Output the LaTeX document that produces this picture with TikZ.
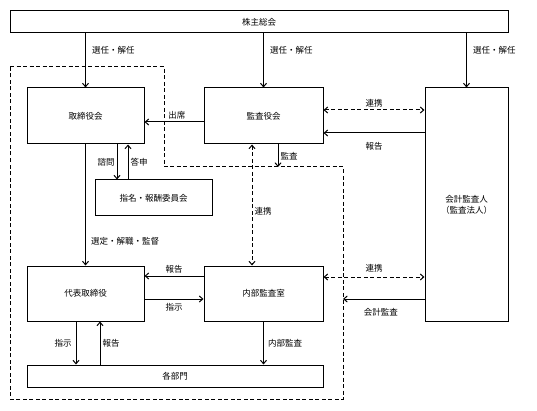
\documentclass[tikz,border=0pt]{standalone}
\usepackage{fontspec}
\newfontfamily\jpfont{Noto Sans CJK JP}
\usepackage{tikz}
\usetikzlibrary{positioning}
\usetikzlibrary{calc,arrows.meta}

\tikzset{
	box/.style    = {draw, line width=1pt, inner sep=0pt, font=\jpfont\fontsize{8.5}{11}\selectfont, align=center},
	lbl/.style    = {inner sep=2pt, font=\jpfont\fontsize{8.5}{11}\selectfont},
	conn/.style   = {line width=1pt, -{Straight Barb[length=3.5pt,width=6pt]}},
	link/.style   = {line width=1pt, dash pattern=on 4pt off 2.5pt, {Straight Barb[length=3.5pt,width=6pt]}-{Straight Barb[length=3.5pt,width=6pt]}},
	frame/.style  = {line width=1pt, dash pattern=on 4pt off 2.5pt},
}

\begin{document}
\begin{tikzpicture}[x=1pt, y=-1pt]
	
	% ------------------------------------------------
	% Ensure the dimensions of graphic are appropriate
	\useasboundingbox (0,0) rectangle (537,411);
	
	% ------------------------------------------------
	% Boxes
	\node[box, minimum width=498pt, minimum height=22pt] (Soukai) at (259,22) {株主総会};
	
	\node[box, minimum width=117pt, minimum height=56pt] (Torishimari) at (85.5,116) {取締役会};
	\node[box, minimum width=119pt, minimum height=56pt] (Kansayaku)   at (263.5,116) {監査役会};
	\node[box, minimum width=83pt, minimum height=233pt] (Kaikei)      at (466.5,204.5) {会計監査人\\（監査法人）};
	
	\node[box, minimum width=117pt, minimum height=36pt] (Shimei) at (153.5,198) {指名・報酬委員会};
	
	\node[box, minimum width=117pt, minimum height=55pt] (Daihyo) at (85.5,293.5) {代表取締役};
	\node[box, minimum width=119pt, minimum height=55pt] (Naibu)  at (263.5,293.5) {内部監査室};
	
	\node[box, minimum width=296pt, minimum height=22pt] (Kakubu) at (175,376) {各部門};
	
	% ----------------
	% Dashed frame
	\draw[frame] (10,67) -- (164,67) -- (164,167) -- (343,167) -- (343,399) -- (10,399) -- cycle;
	
	\coordinate (KansaEnd)  at (278,167);
	\coordinate (KaikeiEnd) at (343,299);
	
	%%%%%%%%%%%%%%%%%%%%%%%%%%%%%%%%%%%%%%%%%
	% Connectors
	\draw[conn] (Soukai.south -| Torishimari) -- node[lbl, pos=0.31, anchor=west, xshift=4pt] (SenninA) {選任・解任} (Torishimari.north);
	\draw[conn] (Soukai.south -| Kansayaku)   -- node[lbl, pos=0.31, anchor=west, xshift=4pt] (SenninB) {選任・解任} (Kansayaku.north);
	\draw[conn] (Soukai.south -| Kaikei)      -- node[lbl, pos=0.31, anchor=west, xshift=4pt] (SenninC) {選任・解任} (Kaikei.north);
	
	\draw[conn] ([yshift=-6pt]Kansayaku.west) -- node[lbl, pos=0.45, above] (Shusseki) {出席} ([yshift=-6pt]Torishimari.east);
	
	\draw[link] (Kansayaku.east |- 0,110) -- node[lbl, above] (RenkeiA) {連携} (Kaikei.west |- 0,110);
	\draw[conn] (Kaikei.west |- 0,133) -- node[lbl, below, yshift=-7pt] (HoukokuA) {報告} (Kansayaku.east |- 0,133);
	
	\draw[conn] (Torishimari.south -| 117,0) -- node[lbl, left] (Shimon) {諮問} (Shimei.north -| 117,0);
	\draw[conn] (Shimei.north -| 128,0) -- node[lbl, right] (Toushin) {答申} (Torishimari.south -| 128,0);
	
	\draw[conn] (Kansayaku.south -| KansaEnd) -- node[lbl, right] (Kansa) {監査} (KansaEnd);
	\draw[link] (Kansayaku.south -| 252,0) -- node[lbl, pos=0.55, right] (RenkeiB) {連携} (Naibu.north -| 252,0);
	
	\draw[conn] (Torishimari.south) -- node[lbl, pos=0.8, anchor=west, xshift=3pt] (Sentei) {選定・解職・監督} (Daihyo.north);
	
	\draw[conn] (Naibu.west |- 0,276) -- node[lbl, above] (HoukokuB) {報告} (Daihyo.east |- 0,276);
	\draw[conn] (Daihyo.east |- 0,299) -- node[lbl, below, yshift=-2pt] (ShijiA) {指示} (Naibu.west |- 0,299);
	
	\draw[link] (Naibu.east |- 0,277) -- node[lbl, above, yshift=2pt] (RenkeiC) {連携} (Kaikei.west |- 0,277);
	\draw[conn] (Kaikei.west |- KaikeiEnd) -- node[lbl, below, yshift=-7pt, xshift=-3pt] (KaikeiKansa) {会計監査} (KaikeiEnd);
	
	\draw[conn] (Daihyo.south -| 76,0) -- node[lbl, left, xshift=-2pt] (ShijiB) {指示} (Kakubu.north -| 76,0);
	\draw[conn] (Kakubu.north -| 100,0) -- node[lbl, right] (HoukokuC) {報告} (Daihyo.south -| 100,0);
	\draw[conn] (Naibu.south) -- node[lbl, right, xshift=2pt] (NaibuKansa) {内部監査} (Kakubu.north -| Naibu);
	
\end{tikzpicture}
\end{document}
